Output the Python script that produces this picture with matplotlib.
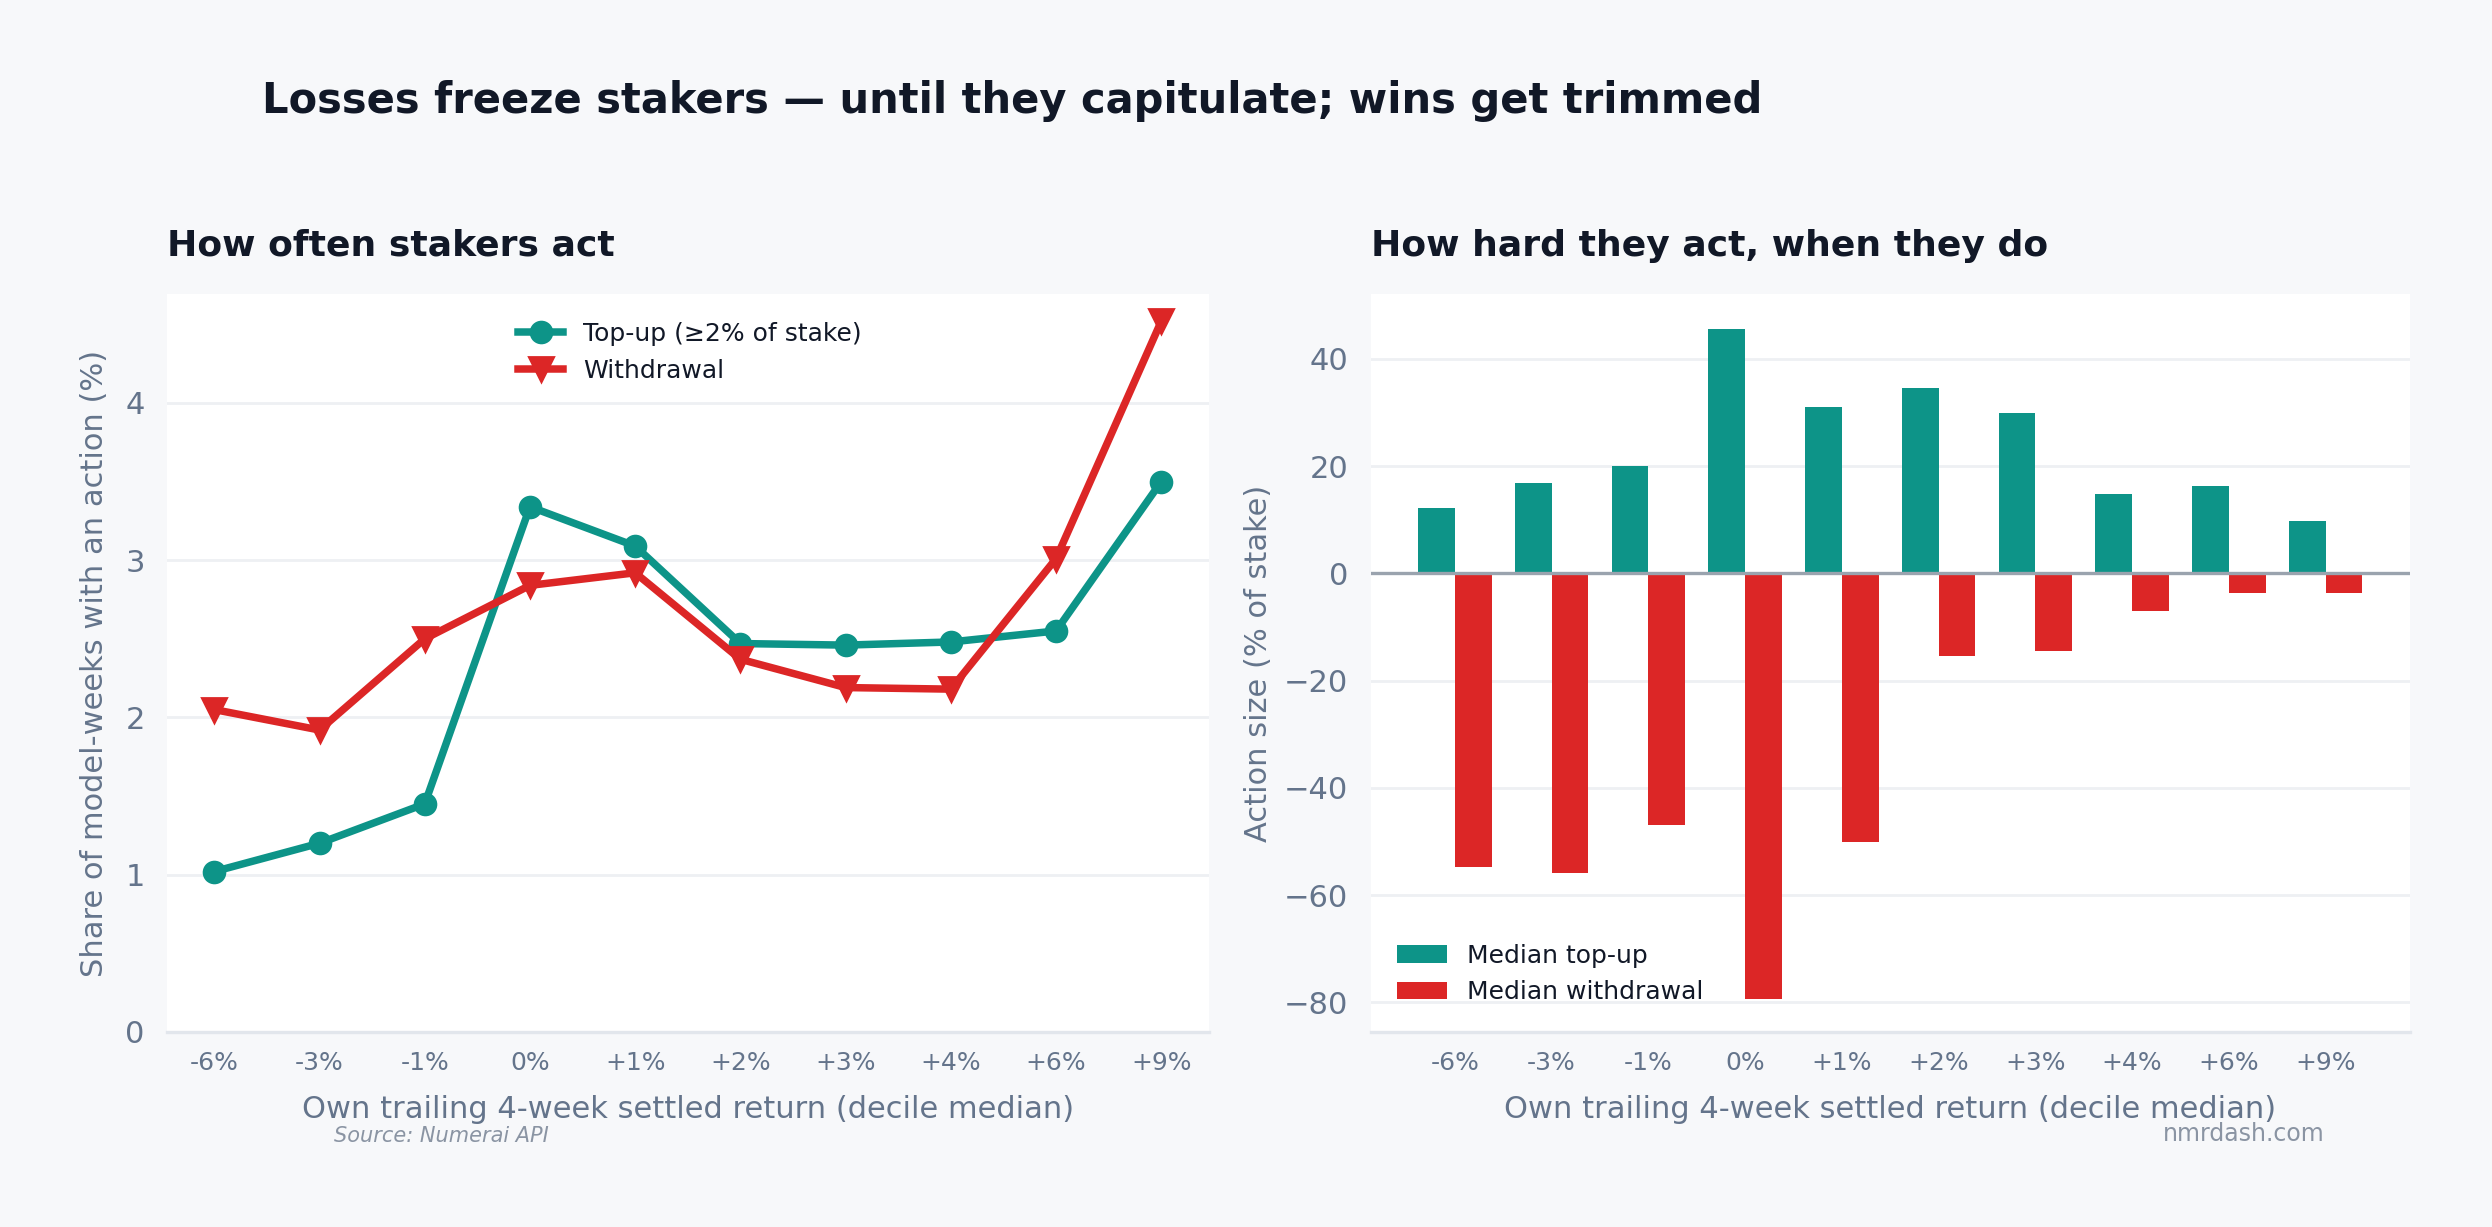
import matplotlib.pyplot as plt
import numpy as np

# decile labels (own trailing 4-week settled return)
deciles = ['-6%', '-3%', '-1%', '0%', '+1%', '+2%', '+3%', '+4%', '+6%', '+9%']

# share of model-weeks with an action (%)
topup_rate = [1.02, 1.20, 1.45, 3.34, 3.09, 2.47, 2.46, 2.48, 2.55, 3.50]
withdraw_rate = [2.05, 1.92, 2.50, 2.84, 2.92, 2.37, 2.19, 2.18, 3.01, 4.52]

# median action size (% of stake)
topup_size = [12.1, 16.9, 20.1, 45.6, 31.1, 34.6, 29.9, 14.8, 16.3, 9.8]
withdraw_size = [-54.7, -55.9, -47.0, -79.3, -50.0, -15.4, -14.5, -7.1, -3.6, -3.6]

TEAL = '#0d9488'
RED = '#dc2626'
DARK = '#111827'
SLATE = '#64748b'
BG = '#f7f8fa'
GRID = '#eef0f3'

plt.rcParams['font.family'] = 'DejaVu Sans'

fig = plt.figure(figsize=(12.46, 6.135), dpi=200, facecolor=BG)
ax1 = fig.add_axes([0.067, 0.159, 0.418, 0.601])
ax2 = fig.add_axes([0.55, 0.159, 0.417, 0.601])

x = np.arange(len(deciles))

fig.text(0.105, 0.918, 'Losses freeze stakers \u2014 until they capitulate; wins get trimmed',
         fontsize=15, fontweight='bold', color=DARK, ha='left', va='center')

for ax in (ax1, ax2):
    ax.set_facecolor('white')
    for s in ('top', 'right', 'left'):
        ax.spines[s].set_visible(False)
    ax.spines['bottom'].set_color('#e2e6ec')
    ax.spines['bottom'].set_linewidth(1.2)
    ax.grid(axis='y', color=GRID, linewidth=1)
    ax.set_axisbelow(True)
    ax.tick_params(axis='both', length=0, colors=SLATE)
    ax.tick_params(axis='x', labelsize=9, pad=7)
    ax.tick_params(axis='y', labelsize=11, pad=8)
    ax.set_xticks(x)
    ax.set_xticklabels(deciles)
    ax.set_xlabel('Own trailing 4-week settled return (decile median)', fontsize=11,
                  color=SLATE, labelpad=7)

# left: frequency
ax1.plot(x, topup_rate, color=TEAL, lw=2.7, marker='o', markersize=7.5,
         label='Top-up (\u22652% of stake)')
ax1.plot(x, withdraw_rate, color=RED, lw=2.7, marker='v', markersize=8.5,
         label='Withdrawal')
ax1.set_xlim(-0.45, 9.45)
ax1.set_ylim(0, 4.69)
ax1.set_yticks([0, 1, 2, 3, 4])
ax1.set_ylabel('Share of model-weeks with an action (%)', fontsize=11, color=SLATE, labelpad=6)
ax1.set_title('How often stakers act', loc='left', fontsize=13, fontweight='bold',
              color=DARK, pad=14)
leg1 = ax1.legend(loc='upper center', frameon=False, fontsize=9, handlelength=1.8,
                  bbox_to_anchor=(0.502, 0.993))
for t in leg1.get_texts():
    t.set_color(DARK)

# right: size
w = 0.38
ax2.bar(x - w / 2, topup_size, width=w, color=TEAL, label='Median top-up')
ax2.bar(x + w / 2, withdraw_size, width=w, color=RED, label='Median withdrawal')
ax2.axhline(0, color='#9aa3ae', lw=1.2)
ax2.set_xlim(-0.87, 9.87)
ax2.set_ylim(-85.5, 52)
ax2.set_yticks([-80, -60, -40, -20, 0, 20, 40])
ax2.set_ylabel('Action size (% of stake)', fontsize=11, color=SLATE, labelpad=4)
ax2.set_title('How hard they act, when they do', loc='left', fontsize=13, fontweight='bold',
              color=DARK, pad=14)
leg2 = ax2.legend(loc='lower left', frameon=False, fontsize=9, handlelength=2.0,
                  bbox_to_anchor=(0.004, 0.007))
for t in leg2.get_texts():
    t.set_color(DARK)

fig.text(0.134, 0.074, 'Source: Numerai API', fontsize=7.5, style='italic', color='#8a94a3',
         ha='left', va='center')
fig.text(0.933, 0.076, 'nmrdash.com', fontsize=8.5, color='#8a94a3', ha='right', va='center')

fig.savefig('out.png', dpi=200, facecolor=BG)
